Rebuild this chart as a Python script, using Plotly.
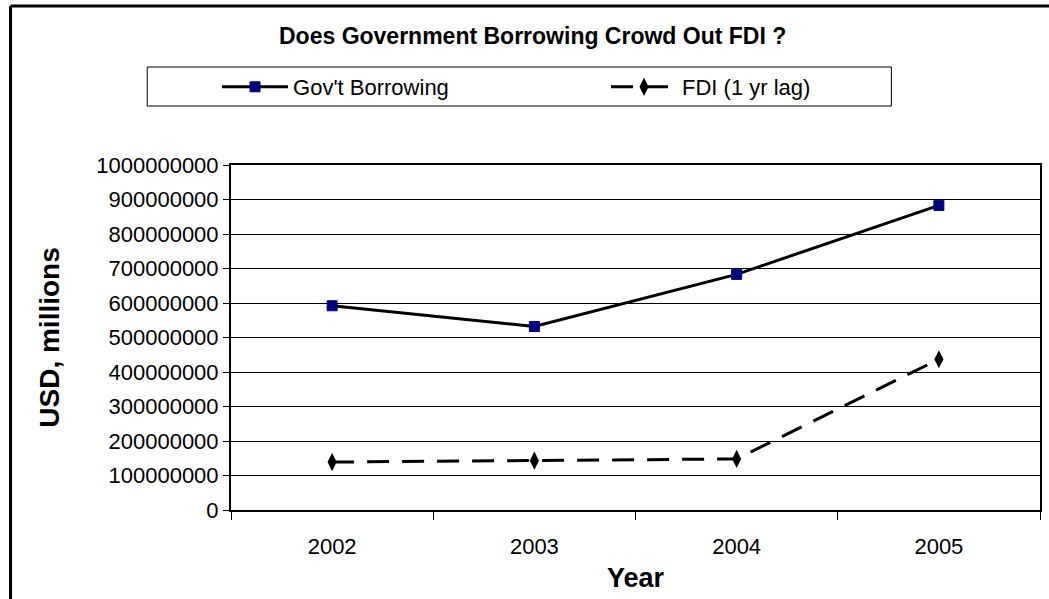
import plotly.graph_objects as go

years = ["2002", "2003", "2004", "2005"]
govt_borrowing = [592000000, 532000000, 683000000, 883000000]
fdi_lag = [139000000, 143000000, 148000000, 437000000]
y_ticks = [0, 100000000, 200000000, 300000000, 400000000, 500000000,
           600000000, 700000000, 800000000, 900000000, 1000000000]

W, H = 1049, 599
L, R, T, B = 231, 1042, 165, 510
FONT = "Liberation Sans, Arial, sans-serif"

def px(x):
    return (x - L) / (R - L)

def py(y):
    return (B - y) / (B - T)

fig = go.Figure()
fig.add_trace(go.Scatter(
    x=years, y=govt_borrowing, name="Gov't Borrowing", mode="lines+markers",
    line=dict(color="black", width=3),
    marker=dict(symbol="square", size=10, color="#000080", line=dict(color="#000080", width=1)),
))
fig.add_trace(go.Scatter(
    x=years, y=fdi_lag, name="FDI (1 yr lag)", mode="lines+markers",
    line=dict(color="black", width=3, dash="22px,13px"),
    marker=dict(symbol="diamond-tall", size=13, color="black"),
))

shapes = [
    # outer frame (left and top edges)
    dict(type="line", xref="paper", yref="paper", x0=px(10), x1=px(1060), y0=py(6), y1=py(6),
         line=dict(color="black", width=3)),
    dict(type="line", xref="paper", yref="paper", x0=px(10), x1=px(10), y0=py(6), y1=py(620),
         line=dict(color="black", width=3)),
    # legend box
    dict(type="rect", xref="paper", yref="paper", x0=px(147), x1=px(893), y0=py(67), y1=py(106),
         line=dict(color="black", width=1), fillcolor="rgba(0,0,0,0)"),
]

fig.update_layout(
    width=W, height=H,
    margin=dict(l=L, r=W - R, t=T, b=H - B, pad=0),
    paper_bgcolor="white", plot_bgcolor="white",
    font=dict(family=FONT, color="black", size=22),
    showlegend=True,
    legend=dict(orientation="h", x=px(217), y=py(87), xanchor="left", yanchor="middle",
                font=dict(family=FONT, size=22, color="black"),
                itemwidth=66, entrywidth=308, bgcolor="rgba(0,0,0,0)", borderwidth=0),
    shapes=shapes,
    annotations=[dict(text="<b>Does Government Borrowing Crowd Out FDI ?</b>", xref="paper", yref="paper",
                      x=px(533), y=py(36), xanchor="center", yanchor="middle", showarrow=False,
                      font=dict(family=FONT, size=23, color="black"))],
    xaxis=dict(type="category", range=[-0.5, 3.5], showline=True, linecolor="black", linewidth=2,
               mirror=True, ticks="outside", tickson="boundaries", ticklen=8, tickcolor="black",
               tickfont=dict(family=FONT, size=22), showgrid=False, ticklabelstandoff=16,
               title=dict(text="<b>Year</b>", font=dict(family=FONT, size=27), standoff=10)),
    yaxis=dict(range=[0, 1000000000], tickvals=y_ticks, tickformat="d", showline=True,
               linecolor="black", linewidth=2, mirror=True, ticks="outside", ticklen=6,
               tickcolor="black", showgrid=True, gridcolor="black", gridwidth=1,
               tickfont=dict(family=FONT, size=22), zeroline=False,
               title=dict(text="<b>USD, millions</b>", font=dict(family=FONT, size=28), standoff=28)),
)

fig.write_html("out.html")
